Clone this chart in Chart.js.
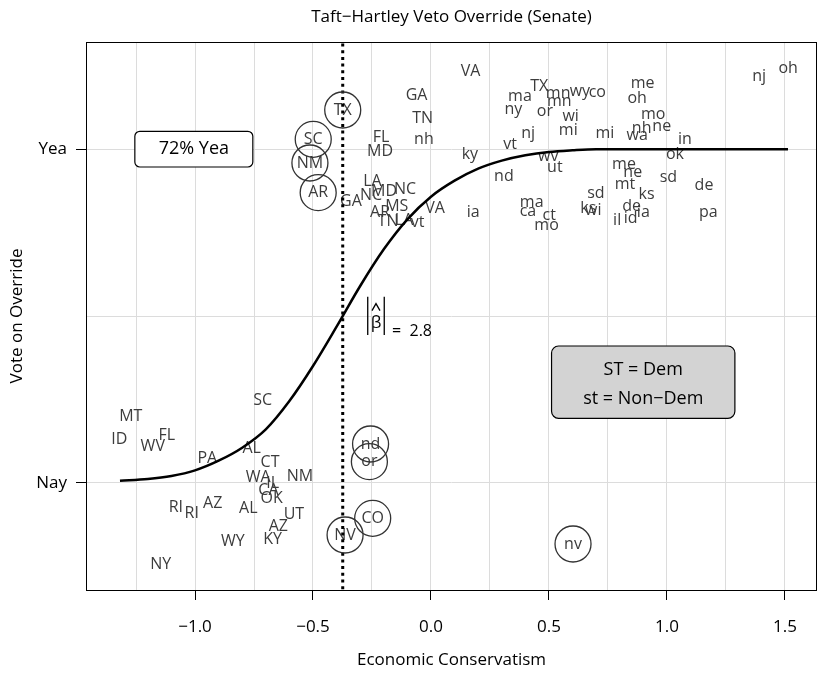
<!DOCTYPE html>
<html>
<head>
<meta charset="utf-8">
<script src="https://cdn.jsdelivr.net/npm/chart.js@4"></script>
<style>
  body { margin: 0; background: #fff; }
</style>
</head>
<body>
<canvas id="chart" width="818" height="674"></canvas>
<script>
// one entry per senator: state (upper case = Democrat), conservatism score, jittered vote position
const states = [
  'VA','GA','TN','nh','FL','MD','ky','TX','SC','NM','AR','GA','LA','NC','MD','NC','AR','MS','TN','LA',
  'vt','VA','ia','nd','TX','ma','mn','wy','co','mn','ny','or','wi','nj','mi','mi','vt','me','oh','mo',
  'nh','ne','wa','in','ok','wv','ut','me','ne','mt','sd','de','ks','sd','ma','ca','ct','mo','ks','wi',
  'de','il','id','ia','pa','nj','oh',
  'SC','MT','ID','WV','FL','PA','AL','CT','WA','NM','IL','CA','OK','RI','RI','AZ','AL','UT','AZ','KY',
  'WY','NY','nd','or','CO','NV','nv'
];
const conserv = [
  0.168,-0.061,-0.035,-0.030,-0.212,-0.216,0.165,-0.374,-0.499,-0.513,-0.478,-0.339,-0.248,-0.254,-0.199,-0.110,-0.216,-0.145,-0.182,-0.114,
  -0.057,0.017,0.179,0.309,0.459,0.377,0.539,0.631,0.705,0.544,0.349,0.483,0.592,0.412,0.582,0.737,0.335,0.897,0.874,0.942,
  0.893,0.978,0.874,1.076,1.034,0.497,0.525,0.818,0.855,0.822,1.006,1.157,0.914,0.699,0.427,0.411,0.501,0.490,0.667,0.688,
  0.850,0.789,0.846,0.900,1.175,1.391,1.514,
  -0.713,-1.272,-1.321,-1.179,-1.120,-0.948,-0.760,-0.682,-0.732,-0.555,-0.671,-0.689,-0.675,-1.081,-1.014,-0.925,-0.774,-0.581,-0.647,-0.671,
  -0.840,-1.145,-0.256,-0.261,-0.247,-0.364,0.602
];
const votePos = [
  1.233,1.163,1.093,1.030,1.036,0.993,0.986,1.118,1.030,0.959,0.870,0.843,0.905,0.863,0.875,0.880,0.812,0.828,0.783,0.788,
  0.780,0.822,0.810,0.918,1.190,1.158,1.168,1.173,1.170,1.143,1.120,1.113,1.100,1.048,1.058,1.048,1.016,1.198,1.153,1.106,
  1.063,1.068,1.043,1.030,0.986,0.980,0.946,0.956,0.930,0.895,0.915,0.893,0.866,0.868,0.840,0.815,0.803,0.773,0.823,0.816,
  0.828,0.786,0.793,0.810,0.810,1.218,1.243,
  0.246,0.200,0.130,0.108,0.143,0.073,0.103,0.060,0.016,0.020,-0.002,-0.022,-0.047,-0.074,-0.092,-0.062,-0.077,-0.094,-0.132,-0.170,
  -0.177,-0.244,0.116,0.063,-0.107,-0.157,-0.184
];
// senators that are ringed (positions in the lists above)
const circled = [7, 8, 9, 10, 89, 90, 91, 92, 93];

// fitted curve
const curveX = [-1.318,-1.2,-1.1,-1.0,-0.9,-0.8,-0.7,-0.6,-0.5,-0.4,-0.3,-0.2,-0.1,0.0,0.1,0.2,0.3,0.4,0.5,0.6,0.7,1.513];
const curveY = [0.006,0.011,0.020,0.037,0.066,0.105,0.160,0.245,0.350,0.468,0.590,0.700,0.790,0.858,0.906,0.942,0.966,0.982,0.992,0.997,1.0,1.0];

const cutPoint = -0.374;
const xTicks = [-1.25,-1.0,-0.75,-0.5,-0.25,0,0.25,0.5,0.75,1.0,1.25,1.5];
const yTicks = [0, 0.5, 1];
const yTickLabels = ['Nay', '', 'Yea'];

const FONT = '"Open Sans", "Noto Sans", sans-serif';

const labelData = conserv.map((v, i) => ({ x: v, y: votePos[i] }));
const ringData = circled.map(i => ({ x: conserv[i], y: votePos[i] }));

const isHalf = v => Math.abs(v * 2 - Math.round(v * 2)) < 1e-6;

const stateLabels = {
  id: 'stateLabels',
  beforeDatasetsDraw(chart) {
    const ctx = chart.ctx;
    const meta = chart.getDatasetMeta(3);
    ctx.save();
    ctx.font = '16px ' + FONT;
    ctx.fillStyle = '#3c3c3c';
    ctx.textAlign = 'center';
    ctx.textBaseline = 'middle';
    meta.data.forEach((pt, i) => {
      ctx.fillText(states[i], pt.x, pt.y);
    });
    ctx.restore();
  }
};

const extras = {
  id: 'extras',
  afterDraw(chart) {
    const ctx = chart.ctx;
    const a = chart.chartArea;
    const x = chart.scales.x, y = chart.scales.y;
    ctx.save();
    // frame
    ctx.strokeStyle = '#000';
    ctx.lineWidth = 1;
    ctx.strokeRect(a.left + 0.5, a.top + 0.5, a.right - a.left - 1, a.bottom - a.top);

    // title
    ctx.fillStyle = '#000';
    ctx.font = '17px ' + FONT;
    ctx.textAlign = 'center';
    ctx.textBaseline = 'middle';
    ctx.fillText('Taft\u2212Hartley Veto Override (Senate)', (a.left + a.right) / 2, 17);

    // 72% Yea box
    let x0 = x.getPixelForValue(-1.255), x1 = x.getPixelForValue(-0.755);
    let y0 = y.getPixelForValue(1.054), y1 = y.getPixelForValue(0.947);
    ctx.beginPath();
    ctx.roundRect(x0, y0, x1 - x0, y1 - y0, 5);
    ctx.fillStyle = '#fff';
    ctx.fill();
    ctx.lineWidth = 1.2;
    ctx.stroke();
    ctx.fillStyle = '#000';
    ctx.font = '18px ' + FONT;
    ctx.fillText('72% Yea', (x0 + x1) / 2, (y0 + y1) / 2);

    // legend box
    x0 = x.getPixelForValue(0.511); x1 = x.getPixelForValue(1.288);
    y0 = y.getPixelForValue(0.410); y1 = y.getPixelForValue(0.193);
    ctx.beginPath();
    ctx.roundRect(x0, y0, x1 - x0, y1 - y0, 7);
    ctx.fillStyle = '#d3d3d3';
    ctx.fill();
    ctx.stroke();
    ctx.fillStyle = '#000';
    ctx.fillText('ST = Dem', (x0 + x1) / 2, y0 + 24);
    ctx.fillText('st = Non\u2212Dem', (x0 + x1) / 2, y0 + 53);

    // |beta-hat| = 2.8
    const bl = x.getPixelForValue(-0.268), br = x.getPixelForValue(-0.198);
    const bt = y.getPixelForValue(0.558), bb = y.getPixelForValue(0.443);
    ctx.lineWidth = 1.3;
    ctx.beginPath();
    ctx.moveTo(bl, bt); ctx.lineTo(bl, bb);
    ctx.moveTo(br, bt); ctx.lineTo(br, bb);
    const bc = (bl + br) / 2;
    ctx.moveTo(bc - 4, bt + 14); ctx.lineTo(bc, bt + 7); ctx.lineTo(bc + 4, bt + 14);
    ctx.stroke();
    ctx.font = '17px ' + FONT;
    ctx.fillText('\u03B2', bc, y.getPixelForValue(0.479));
    ctx.textAlign = 'left';
    ctx.font = '16px ' + FONT;
    ctx.fillText('=  2.8', x.getPixelForValue(-0.165), y.getPixelForValue(0.455));
    ctx.restore();
  }
};

new Chart(document.getElementById('chart'), {
  data: {
    datasets: [
      {
        type: 'scatter',
        data: ringData,
        pointRadius: 18,
        pointBorderWidth: 1.3,
        pointBorderColor: '#333',
        pointBackgroundColor: 'rgba(0,0,0,0)',
        order: 1
      },
      {
        type: 'line',
        data: curveX.map((v, i) => ({ x: v, y: curveY[i] })),
        borderColor: '#000',
        borderWidth: 2.5,
        pointRadius: 0,
        cubicInterpolationMode: 'monotone',
        fill: false,
        order: 2
      },
      {
        type: 'line',
        data: [{ x: cutPoint, y: -0.4 }, { x: cutPoint, y: 1.4 }],
        borderColor: '#000',
        borderWidth: 3,
        borderDash: [3, 3.7],
        pointRadius: 0,
        fill: false,
        order: 3
      },
      {
        type: 'scatter',
        data: labelData,
        pointRadius: 0,
        order: 4
      }
    ]
  },
  options: {
    responsive: false,
    animation: false,
    events: [],
    layout: { autoPadding: false, padding: { top: 42, right: 1, left: 0, bottom: 0 } },
    plugins: {
      legend: { display: false },
      tooltip: { enabled: false }
    },
    scales: {
      x: {
        type: 'linear',
        min: -1.462,
        max: 1.636,
        afterBuildTicks: s => { s.ticks = xTicks.map(v => ({ value: v })); },
        afterFit: s => { s.height = 84; s.paddingLeft = 0; s.paddingRight = 0; },
        border: { display: false },
        grid: {
          color: '#dcdcdc',
          lineWidth: 1,
          tickLength: 10,
          tickColor: c => (isHalf(c.tick.value) ? '#000' : 'rgba(0,0,0,0)')
        },
        ticks: {
          padding: 17,
          color: '#000',
          font: { family: FONT, size: 17 },
          maxRotation: 0,
          autoSkip: false,
          callback: v => (isHalf(v) ? v.toFixed(1).replace('-', '\u2212') : '')
        },
        title: {
          display: true,
          text: 'Economic Conservatism',
          color: '#000',
          font: { family: FONT, size: 17 },
          padding: { top: 0, bottom: 4 }
        }
      },
      y: {
        type: 'linear',
        min: -0.322,
        max: 1.322,
        afterBuildTicks: s => { s.ticks = yTicks.map(v => ({ value: v })); },
        afterFit: s => { s.width = 86; s.paddingTop = 0; s.paddingBottom = 0; },
        border: { display: false },
        grid: {
          color: '#dcdcdc',
          lineWidth: 1,
          tickLength: 10,
          tickColor: c => (c.tick.value === 0.5 ? 'rgba(0,0,0,0)' : '#000')
        },
        ticks: {
          padding: 9,
          color: '#000',
          font: { family: FONT, size: 17 },
          autoSkip: false,
          callback: v => yTickLabels[yTicks.indexOf(v)] || ''
        },
        title: {
          display: true,
          text: 'Vote on Override',
          color: '#000',
          font: { family: FONT, size: 17 },
          padding: { top: 7, bottom: 0 }
        }
      }
    }
  },
  plugins: [stateLabels, extras]
});
</script>
</body>
</html>
